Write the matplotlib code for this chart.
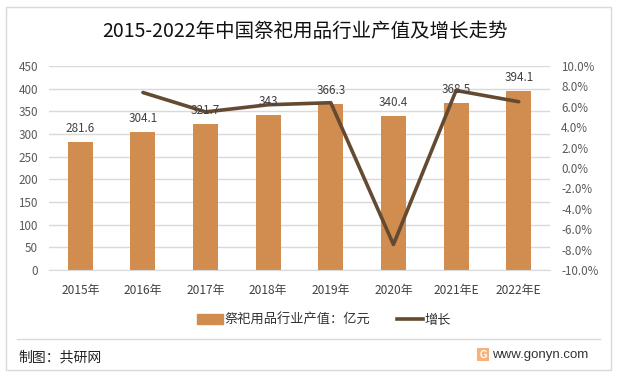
import matplotlib
matplotlib.use('Agg')
import matplotlib.pyplot as plt
from matplotlib.patches import Rectangle
from matplotlib.lines import Line2D

plt.rcParams['font.family'] = ['Noto Sans CJK SC', 'DejaVu Sans']

# datos
anios = ['2015年', '2016年', '2017年', '2018年', '2019年', '2020年', '2021年E', '2022年E']
valor = [281.6, 304.1, 321.7, 343, 366.3, 340.4, 368.5, 394.1]
etiquetas = ['281.6', '304.1', '321.7', '343', '366.3', '340.4', '368.5', '394.1']
crecimiento = [None, 7.4, 5.5, 6.2, 6.4, -7.5, 7.6, 6.5]
ticks_izq = [0, 50, 100, 150, 200, 250, 300, 350, 400, 450]
ticks_der = [-10, -8, -6, -4, -2, 0, 2, 4, 6, 8, 10]

W, H = 617, 376
fig = plt.figure(figsize=(W / 100, H / 100), dpi=100)

# marco exterior
fig.add_artist(Rectangle((6 / W, 1 - 370 / H), 605 / W, 363 / H, transform=fig.transFigure,
                         fill=False, edgecolor='#d9d9d9', linewidth=1))

ax = fig.add_axes([49 / W, 1 - 270 / H, 501 / W, 204 / H])
ax.set_xlim(-0.5, 7.5)
ax.set_ylim(0, 450)
ax.set_yticks(ticks_izq)
ax.grid(axis='y', color='#d9d9d9', linewidth=1)
ax.set_axisbelow(True)
x = list(range(len(anios)))
ax.bar(x, valor, width=0.4, color='#d18d4f', label='祭祀用品行业产值：亿元')
ax.set_xticks(x)
ax.set_xticklabels(anios)
ax.tick_params(axis='y', length=0, labelsize=8.4, labelcolor='#595959', pad=8)
ax.tick_params(axis='x', length=0, labelsize=8.6, pad=10, labelcolor='#404040')
for s in ['top', 'left', 'right']:
    ax.spines[s].set_visible(False)
ax.spines['bottom'].set_color('#d9d9d9')

ax2 = ax.twinx()
ax2.set_ylim(-10, 10)
ax2.set_yticks(ticks_der)
ax2.set_yticklabels(['%.1f%%' % t for t in ticks_der], ha='left')
ax2.tick_params(axis='y', length=0, labelsize=8.4, labelcolor='#595959', pad=8)
for s in ['top', 'left', 'right', 'bottom']:
    ax2.spines[s].set_visible(False)
ax2.plot(x[1:], crecimiento[1:], color='#654a32', linewidth=2.6, solid_capstyle='round', label='增长')

for i, v in enumerate(valor):
    ax2.annotate(etiquetas[i], (i, (v / 450) * 20 - 10), xytext=(0, 5), textcoords='offset points',
                 ha='center', va='bottom', fontsize=8.4, color='#404040')

fig.text(305 / W, 1 - 31 / H, '2015-2022年中国祭祀用品行业产值及增长走势', ha='center', va='center',
         fontsize=14, color='#111111')

# leyenda
handles = [Rectangle((0, 0), 1, 1, color='#d18d4f'),
           Line2D([0], [0], color='#654a32', linewidth=2.6)]
fig.legend(handles, ['祭祀用品行业产值：亿元', '增长'], loc='center', bbox_to_anchor=(324 / W, 1 - 320 / H),
           ncol=2, frameon=False, fontsize=9.5, labelcolor='#333333', columnspacing=2.0,
           handlelength=2.0, handletextpad=0.1)

# pie
fig.add_artist(Line2D([17 / W, 600 / W], [1 - 339 / H, 1 - 339 / H], color='#d9d9d9', linewidth=1))
fig.text(18 / W, 1 - 357 / H, '制图：共研网', ha='left', va='center', fontsize=10, color='#222222')
fig.text(492 / W, 1 - 355 / H, 'www.gonyn.com', ha='left', va='center', fontsize=9.5, color='#333333',
         family=['Liberation Sans'])
fig.add_artist(Rectangle((477 / W, 1 - 361 / H), 12 / W, 13 / H, transform=fig.transFigure,
                         facecolor='#f5b27c', edgecolor='none'))
fig.text(483 / W, 1 - 354.5 / H, 'G', ha='center', va='center', fontsize=7, color='white',
         fontweight='bold', family=['Liberation Sans'])

fig.savefig('out.png', dpi=100)
